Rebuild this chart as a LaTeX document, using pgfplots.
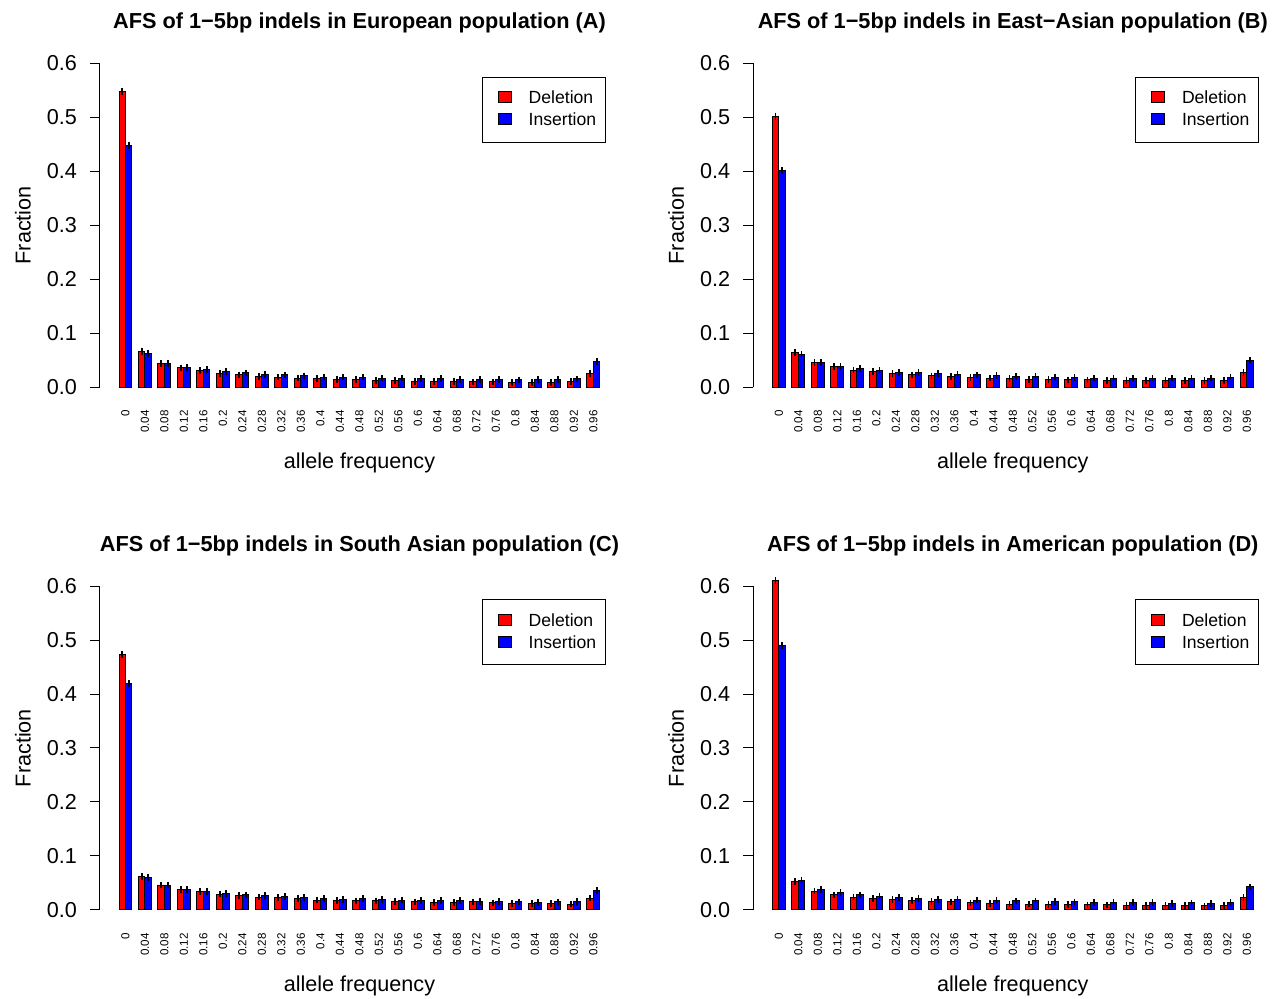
\documentclass[border=0pt]{standalone}
\usepackage{fontspec}
\setmainfont{Liberation Sans}
\usepackage{pgfplots}
\usepackage{pgfplotstable}
\pgfplotsset{compat=1.18}

\pgfplotstableread{
k del ins de ie
0 0.548 0.448 0.0015 0.0015
1 0.066 0.063 0.001 0.001
2 0.044 0.044 0.001 0.001
3 0.036 0.037 0.001 0.001
4 0.031 0.033 0.001 0.001
5 0.025 0.029 0.001 0.001
6 0.023 0.0265 0.001 0.001
7 0.020 0.0235 0.001 0.001
8 0.019 0.023 0.001 0.001
9 0.017 0.021 0.001 0.001
10 0.016 0.019 0.001 0.001
11 0.015 0.019 0.001 0.001
12 0.014 0.019 0.001 0.001
13 0.013 0.017 0.001 0.001
14 0.012 0.017 0.001 0.001
15 0.011 0.016 0.001 0.001
16 0.011 0.016 0.001 0.001
17 0.0105 0.015 0.001 0.001
18 0.010 0.014 0.001 0.001
19 0.010 0.014 0.001 0.001
20 0.009 0.0135 0.001 0.001
21 0.009 0.014 0.001 0.001
22 0.009 0.014 0.001 0.001
23 0.0105 0.0155 0.001 0.001
24 0.025 0.0475 0.001 0.001
}\tabA

\pgfplotstableread{
k del ins de ie
0 0.502 0.401 0.0015 0.0015
1 0.065 0.061 0.001 0.001
2 0.046 0.046 0.001 0.001
3 0.038 0.038 0.001 0.001
4 0.032 0.0345 0.001 0.001
5 0.029 0.031 0.001 0.001
6 0.025 0.027 0.001 0.001
7 0.023 0.027 0.001 0.001
8 0.021 0.025 0.001 0.001
9 0.020 0.024 0.001 0.001
10 0.018 0.023 0.001 0.001
11 0.017 0.0215 0.001 0.001
12 0.016 0.020 0.001 0.001
13 0.015 0.020 0.001 0.001
14 0.014 0.019 0.001 0.001
15 0.0135 0.018 0.001 0.001
16 0.0135 0.017 0.001 0.001
17 0.012 0.017 0.001 0.001
18 0.012 0.017 0.001 0.001
19 0.012 0.017 0.001 0.001
20 0.012 0.017 0.001 0.001
21 0.012 0.016 0.001 0.001
22 0.012 0.017 0.001 0.001
23 0.013 0.019 0.001 0.001
24 0.027 0.0505 0.001 0.001
}\tabB

\pgfplotstableread{
k del ins de ie
0 0.473 0.420 0.0015 0.0015
1 0.062 0.0605 0.001 0.001
2 0.046 0.046 0.001 0.001
3 0.0375 0.038 0.001 0.001
4 0.034 0.034 0.001 0.001
5 0.0296 0.030 0.001 0.001
6 0.027 0.028 0.001 0.001
7 0.024 0.0265 0.001 0.001
8 0.023 0.025 0.001 0.001
9 0.021 0.023 0.001 0.001
10 0.0185 0.0216 0.001 0.001
11 0.018 0.020 0.001 0.001
12 0.0167 0.021 0.001 0.001
13 0.0167 0.019 0.001 0.001
14 0.0154 0.0185 0.001 0.001
15 0.015 0.018 0.001 0.001
16 0.014 0.017 0.001 0.001
17 0.0136 0.017 0.001 0.001
18 0.015 0.016 0.001 0.001
19 0.013 0.0154 0.001 0.001
20 0.012 0.015 0.001 0.001
21 0.012 0.0136 0.001 0.001
22 0.0117 0.015 0.001 0.001
23 0.011 0.0154 0.001 0.001
24 0.022 0.036 0.001 0.001
}\tabC

\pgfplotstableread{
k del ins de ie
0 0.610 0.490 0.0015 0.0015
1 0.0525 0.054 0.001 0.001
2 0.035 0.0377 0.001 0.001
3 0.028 0.032 0.001 0.001
4 0.024 0.028 0.001 0.001
5 0.0216 0.025 0.001 0.001
6 0.019 0.0235 0.001 0.001
7 0.018 0.0216 0.001 0.001
8 0.0154 0.0198 0.001 0.001
9 0.015 0.019 0.001 0.001
10 0.013 0.0185 0.001 0.001
11 0.0123 0.0185 0.001 0.001
12 0.011 0.0167 0.001 0.001
13 0.011 0.0167 0.001 0.001
14 0.0105 0.0154 0.001 0.001
15 0.0105 0.015 0.001 0.001
16 0.0093 0.0136 0.001 0.001
17 0.0093 0.014 0.001 0.001
18 0.0086 0.0136 0.001 0.001
19 0.0086 0.0136 0.001 0.001
20 0.008 0.0123 0.001 0.001
21 0.008 0.013 0.001 0.001
22 0.0074 0.0123 0.001 0.001
23 0.008 0.014 0.001 0.001
24 0.0228 0.0426 0.001 0.001
}\tabD

\definecolor{rred}{RGB}{255,0,0}
\definecolor{rblue}{RGB}{0,0,255}

\pgfplotsset{
  afs/.style={
    scale only axis, width=259.72pt, height=162pt,
    xmin=-1.32, xmax=25.32, ymin=0, ymax=0.6,
    clip=false,
    axis y line*=left, axis x line*=bottom,
    x axis line style={draw=none},
    y axis line style={-, line width=0.5pt, black},
    xtick={0,...,24},
    xticklabels={0,0.04,0.08,0.12,0.16,0.2,0.24,0.28,0.32,0.36,0.4,0.44,0.48,0.52,0.56,0.6,0.64,0.68,0.72,0.76,0.8,0.84,0.88,0.92,0.96},
    x tick style={draw=none},
    xticklabel style={rotate=90, anchor=east, inner sep=0pt, font=\fontsize{5.8}{7}\selectfont},
    xticklabel shift=6.35pt,
    ytick={0,0.1,0.2,0.3,0.4,0.5,0.6},
    y tick style={line width=0.5pt, black},
    tick align=outside, major tick length=5pt,
    yticklabel style={inner sep=0pt, anchor=east, font=\fontsize{10.8}{12}\selectfont,
      /pgf/number format/.cd, fixed, fixed zerofill, precision=1, assume math mode=true},
    yticklabel shift=6.25pt,
    every axis title shift=0pt,
    title style={at={(axis description cs:0.5,1.106)}, anchor=base, inner sep=0pt, font=\bfseries\fontsize{10.85}{12}\selectfont},
    xlabel={allele frequency},
    ylabel={Fraction},
    xlabel style={at={(axis description cs:0.5,-0.2522)}, anchor=base, inner sep=0pt, font=\fontsize{10.8}{12}\selectfont},
    ylabel style={at={(axis description cs:-0.133,0.5)}, anchor=base, inner sep=0pt, font=\fontsize{10.8}{12}\selectfont},
    legend style={at={(axis description cs:0.974,0.9586)}, anchor=north east, draw=black, line width=0.5pt, fill=white,
      inner xsep=4.5pt, inner ysep=6.75pt, row sep=3.25pt, font=\fontsize{8.8}{10}\selectfont,
      nodes={inner sep=0pt}},
    legend cell align=left,
    legend image code/.code={\path[draw=none,fill=none] (-3.3pt,0pt) -- (15.3pt,0pt); \filldraw[#1] (0pt,-2.0pt) rectangle (6.5pt,3.5pt);},
  },
  delbar/.style={ybar, bar width=0.3333, bar shift=-0.16667, fill=rred, draw=black, line width=0.5pt},
  insbar/.style={ybar, bar width=0.3333, bar shift=0.16667, fill=rblue, draw=black, line width=0.5pt},
  errb/.style={draw=none, mark=none, forget plot,
    error bars/.cd, y dir=both, y explicit,
    error bar style={line width=0.8pt, black},
    error mark=-,
    error mark options={mark size=1.4pt, line width=0.8pt, black}},
}

\begin{document}
\begin{tikzpicture}
\path[use as bounding box] (0,0) rectangle (639pt,499.5pt);

\begin{axis}[afs, at={(49.88pt,305.85pt)}, anchor=south west,
  title={AFS of 1−5bp indels in European population (A)}]
\addplot[delbar] table[x=k, y=del] {\tabA};
\addplot[insbar] table[x=k, y=ins] {\tabA};
\addplot[errb] table[x expr=\thisrow{k}-0.16667, y=del, y error=de] {\tabA};
\addplot[errb] table[x expr=\thisrow{k}+0.16667, y=ins, y error=ie] {\tabA};
\legend{Deletion, Insertion}
\end{axis}

\begin{axis}[afs, at={(376.53pt,305.85pt)}, anchor=south west,
  title={AFS of 1−5bp indels in East−Asian population (B)}]
\addplot[delbar] table[x=k, y=del] {\tabB};
\addplot[insbar] table[x=k, y=ins] {\tabB};
\addplot[errb] table[x expr=\thisrow{k}-0.16667, y=del, y error=de] {\tabB};
\addplot[errb] table[x expr=\thisrow{k}+0.16667, y=ins, y error=ie] {\tabB};
\legend{Deletion, Insertion}
\end{axis}

\begin{axis}[afs, at={(49.88pt,44.5pt)}, anchor=south west,
  title={AFS of 1−5bp indels in South Asian population (C)}]
\addplot[delbar] table[x=k, y=del] {\tabC};
\addplot[insbar] table[x=k, y=ins] {\tabC};
\addplot[errb] table[x expr=\thisrow{k}-0.16667, y=del, y error=de] {\tabC};
\addplot[errb] table[x expr=\thisrow{k}+0.16667, y=ins, y error=ie] {\tabC};
\legend{Deletion, Insertion}
\end{axis}

\begin{axis}[afs, at={(376.53pt,44.5pt)}, anchor=south west,
  title={AFS of 1−5bp indels in American population (D)}]
\addplot[delbar] table[x=k, y=del] {\tabD};
\addplot[insbar] table[x=k, y=ins] {\tabD};
\addplot[errb] table[x expr=\thisrow{k}-0.16667, y=del, y error=de] {\tabD};
\addplot[errb] table[x expr=\thisrow{k}+0.16667, y=ins, y error=ie] {\tabD};
\legend{Deletion, Insertion}
\end{axis}
\end{tikzpicture}
\end{document}
